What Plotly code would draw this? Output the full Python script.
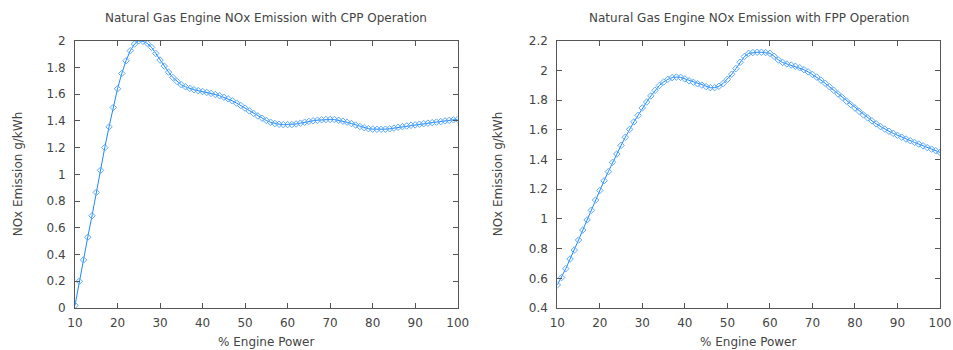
import plotly.graph_objects as go

power = list(range(10, 101))

nox_cpp = [
    0.02, 0.20, 0.36, 0.53, 0.69, 0.865, 1.03, 1.20, 1.355, 1.50,
    1.64, 1.755, 1.85, 1.925, 1.975, 2.00, 1.995, 1.98, 1.95, 1.905,
    1.855, 1.81, 1.765, 1.725, 1.695, 1.67, 1.655, 1.643, 1.633, 1.626,
    1.62, 1.613, 1.605, 1.597, 1.588, 1.577, 1.565, 1.55, 1.533, 1.515,
    1.495, 1.475, 1.455, 1.437, 1.42, 1.403, 1.39, 1.38, 1.375, 1.372,
    1.372, 1.373, 1.377, 1.383, 1.39, 1.396, 1.401, 1.405, 1.408, 1.41,
    1.411, 1.41, 1.405, 1.398, 1.39, 1.38, 1.369, 1.358, 1.349, 1.342,
    1.338, 1.337, 1.337, 1.338, 1.341, 1.346, 1.352, 1.357, 1.362, 1.367,
    1.37, 1.375, 1.379, 1.383, 1.387, 1.391, 1.395, 1.40, 1.404, 1.408,
    1.412,
]

nox_fpp = [
    0.555, 0.605, 0.665, 0.73, 0.79, 0.858, 0.925, 0.993, 1.058, 1.127,
    1.192, 1.257, 1.318, 1.381, 1.437, 1.495, 1.55, 1.603, 1.653, 1.697,
    1.747, 1.787, 1.828, 1.866, 1.898, 1.922, 1.94, 1.951, 1.955, 1.953,
    1.943, 1.93, 1.92, 1.91, 1.901, 1.891, 1.884, 1.884, 1.893, 1.912,
    1.94, 1.974, 2.012, 2.055, 2.093, 2.115, 2.12, 2.122, 2.122, 2.12,
    2.115, 2.095, 2.07, 2.053, 2.043, 2.036, 2.028, 2.018, 2.005, 1.99,
    1.973, 1.955, 1.935, 1.913, 1.89, 1.866, 1.842, 1.818, 1.793, 1.77,
    1.747, 1.724, 1.70, 1.68, 1.66, 1.64, 1.622, 1.605, 1.59, 1.576,
    1.563, 1.55, 1.538, 1.527, 1.515, 1.504, 1.492, 1.48, 1.47, 1.459,
    1.448,
]

titles = ["Natural Gas Engine NOx Emission with CPP Operation",
          "Natural Gas Engine NOx Emission with FPP Operation"]
x_title = "% Engine Power"
y_title = "NOx Emission g/kWh"

W, H = 953, 350
FONT = "DejaVu Sans"
FS = 12
TXT = "#444444"
AX = "#555555"
LINE = "#1e88ff"
MARK = "#5aaaff"

fig = go.Figure()
for i, ys in enumerate([nox_cpp, nox_fpp]):
    sfx = "" if i == 0 else "2"
    fig.add_trace(go.Scatter(
        x=power, y=ys, mode="lines+markers",
        line=dict(color=LINE, width=1),
        marker=dict(symbol="diamond-open", size=5, color=MARK, line=dict(width=1, color=MARK)),
        xaxis="x" + sfx, yaxis="y" + sfx, showlegend=False, hoverinfo="x+y",
    ))

left = [(75, 457.7), (557.3, 940.0)]
top_px, bot_px = 40.7, 308.0
yd = [1 - bot_px / H, 1 - top_px / H]

axcommon = dict(
    showgrid=False, zeroline=False, showline=True, linecolor=AX, linewidth=1,
    mirror="ticks", ticks="inside", ticklen=5, tickcolor=AX, tickwidth=1,
    tickfont=dict(family=FONT, size=FS, color=TXT), automargin=False,
)

layout = dict(
    width=W, height=H, margin=dict(l=0, r=0, t=0, b=0, autoexpand=False),
    paper_bgcolor="white", plot_bgcolor="white",
    font=dict(family=FONT, size=FS, color=TXT),
    annotations=[],
)

yranges = [(0, 2), (0.4, 2.2)]
for i in range(2):
    sfx = "" if i == 0 else "2"
    xd = [left[i][0] / W, left[i][1] / W]
    layout["xaxis" + sfx] = dict(
        axcommon, domain=xd, range=[10, 100], tick0=10, dtick=10,
        anchor="y" + sfx, ticklabelstandoff=4,
    )
    layout["yaxis" + sfx] = dict(
        axcommon, domain=yd, range=list(yranges[i]), dtick=0.2,
        anchor="x" + sfx, ticklabelstandoff=6,
    )
    cx = (left[i][0] + left[i][1]) / 2 / W
    layout["annotations"].append(dict(
        text=titles[i], x=cx, y=1 - 18 / H, xref="paper", yref="paper",
        showarrow=False, font=dict(family=FONT, size=FS, color=TXT),
        xanchor="center", yanchor="middle",
    ))
    layout["annotations"].append(dict(
        text=x_title, x=cx, y=1 - 342 / H, xref="paper", yref="paper",
        showarrow=False, font=dict(family=FONT, size=FS, color=TXT),
        xanchor="center", yanchor="middle",
    ))
    ylab_x = [18, 498][i]
    layout["annotations"].append(dict(
        text=y_title, x=ylab_x / W, y=sum(yd) / 2, xref="paper", yref="paper",
        showarrow=False, textangle=-90, font=dict(family=FONT, size=FS, color=TXT),
        xanchor="center", yanchor="middle",
    ))

fig.update_layout(**layout)
fig.write_html("out.html")
